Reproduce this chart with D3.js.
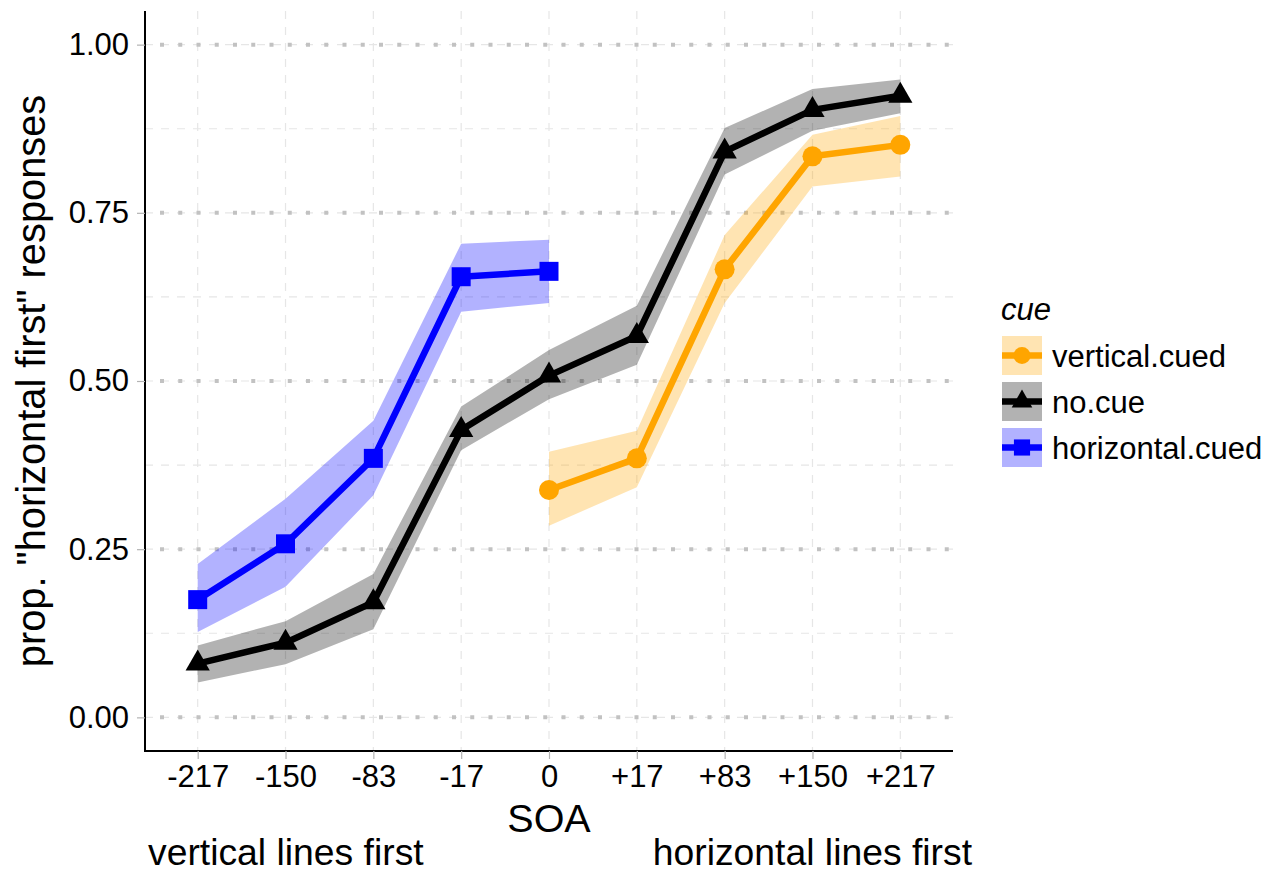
<!DOCTYPE html>
<html>
<head>
<meta charset="utf-8">
<script src="https://cdn.jsdelivr.net/npm/d3@7"></script>
<style>
  html, body { margin: 0; padding: 0; background: #fff; }
  svg { display: block; font-family: "Liberation Sans", Arial, Helvetica, sans-serif; }
</style>
</head>
<body>
<svg id="chart" width="1272" height="872"></svg>
<script>
// SOA categories (ms)
const categories = ["-217", "-150", "-83", "-17", "0", "+17", "+83", "+150", "+217"];

// vertical.cued
const vertSOA  = ["0", "+17", "+83", "+150", "+217"];
const vertProp = [0.338, 0.385, 0.666, 0.834, 0.851];
const vertLow  = [0.285, 0.342, 0.616, 0.789, 0.804];
const vertHigh = [0.395, 0.426, 0.717, 0.866, 0.894];

// no.cue
const noCueSOA  = ["-217", "-150", "-83", "-17", "0", "+17", "+83", "+150", "+217"];
const noCueProp = [0.080, 0.111, 0.171, 0.427, 0.508, 0.567, 0.841, 0.903, 0.924];
const noCueLow  = [0.052, 0.079, 0.131, 0.397, 0.473, 0.524, 0.807, 0.872, 0.898];
const noCueHigh = [0.107, 0.143, 0.213, 0.462, 0.546, 0.612, 0.876, 0.934, 0.948];

// horizontal.cued
const horizSOA  = ["-217", "-150", "-83", "-17", "0"];
const horizProp = [0.175, 0.258, 0.385, 0.655, 0.663];
const horizLow  = [0.127, 0.194, 0.330, 0.603, 0.616];
const horizHigh = [0.228, 0.325, 0.441, 0.704, 0.710];

const yTicks = [0, 0.25, 0.5, 0.75, 1];
const yMinor = [0.125, 0.375, 0.625, 0.875];
const seriesNames = ["vertical.cued", "no.cue", "horizontal.cued"];
const seriesColors = ["#FFA500", "#000000", "#0000FF"];
const seriesShapes = ["circle", "triangle", "square"];

function rows(soa, p, lo, hi) {
  return soa.map((s, i) => ({ soa: s, p: p[i], lo: lo[i], hi: hi[i] }));
}
const series = [
  rows(vertSOA, vertProp, vertLow, vertHigh),
  rows(noCueSOA, noCueProp, noCueLow, noCueHigh),
  rows(horizSOA, horizProp, horizLow, horizHigh)
];

const panel = { left: 145, right: 953, top: 11, bottom: 751 };
const svg = d3.select("#chart");

const x = d3.scalePoint().domain(categories).range([panel.left, panel.right]).padding(0.6);
const y = d3.scaleLinear().domain([-0.05, 1.05]).range([panel.bottom, panel.top]);

// grid
const grid = svg.append("g");
grid.selectAll(".vgrid").data(categories).join("line")
  .attr("x1", d => x(d)).attr("x2", d => x(d))
  .attr("y1", panel.top).attr("y2", panel.bottom)
  .attr("stroke", "#e6e6e6").attr("stroke-width", 1.2).attr("stroke-dasharray", "8,8");
grid.selectAll(".hminor").data(yMinor.concat(yTicks)).join("line")
  .attr("x1", panel.left).attr("x2", panel.right)
  .attr("y1", d => y(d)).attr("y2", d => y(d))
  .attr("stroke", "#e6e6e6").attr("stroke-width", 1.2).attr("stroke-dasharray", "8,8");
grid.selectAll(".hmajor").data(yTicks).join("line")
  .attr("x1", panel.left).attr("x2", panel.right - 3)
  .attr("y1", d => y(d)).attr("y2", d => y(d))
  .attr("stroke", "#c2c2c2").attr("stroke-width", 4)
  .attr("stroke-dasharray", "4,14.25").attr("stroke-dashoffset", -15);

// ribbons
const area = d3.area().x(d => x(d.soa)).y0(d => y(d.lo)).y1(d => y(d.hi));
svg.append("g").selectAll("path").data(series).join("path")
  .attr("d", area)
  .attr("fill", (d, i) => seriesColors[i]).attr("fill-opacity", 0.3);

// lines
const line = d3.line().x(d => x(d.soa)).y(d => y(d.p));
svg.append("g").selectAll("path").data(series).join("path")
  .attr("d", line).attr("fill", "none")
  .attr("stroke", (d, i) => seriesColors[i]).attr("stroke-width", 6.5)
  .attr("stroke-linejoin", "round");

// point symbols
function symbolPath(shape, scale) {
  if (shape === "circle") return d3.symbol(d3.symbolCircle, Math.PI * 10 * 10 * scale * scale)();
  if (shape === "square") return d3.symbol(d3.symbolSquare, 19 * 19 * scale * scale)();
  const r = 14 * scale;
  const h = r * Math.sqrt(3) / 2;
  return `M0,${-r}L${h},${r / 2}L${-h},${r / 2}Z`;
}
series.forEach((s, i) => {
  svg.append("g").selectAll("path").data(s).join("path")
    .attr("transform", d => `translate(${x(d.soa)},${y(d.p)})`)
    .attr("d", symbolPath(seriesShapes[i], 1))
    .attr("fill", seriesColors[i]);
});

// axes
const yAxis = svg.append("g").attr("transform", `translate(${panel.left},0)`)
  .call(d3.axisLeft(y).tickValues(yTicks).tickFormat(d3.format(".2f")).tickSize(8).tickSizeOuter(0).tickPadding(8));
const xAxis = svg.append("g").attr("transform", `translate(0,${panel.bottom})`)
  .call(d3.axisBottom(x).tickSize(8).tickSizeOuter(0).tickPadding(6));
[yAxis, xAxis].forEach(a => {
  a.select(".domain").attr("stroke", "#000").attr("stroke-width", 2);
  a.selectAll(".tick line").attr("stroke", "#b3b3b3").attr("stroke-width", 1.2);
  a.selectAll(".tick text").attr("fill", "#000").attr("font-size", 31)
    .attr("font-family", "Liberation Sans, Arial, sans-serif");
});
yAxis.select(".domain").attr("d", `M0,${panel.bottom + 1}V${panel.top}`);
xAxis.select(".domain").attr("d", `M${panel.left - 1},0H${panel.right}`);

// axis titles
svg.append("text").attr("x", (panel.left + panel.right) / 2).attr("y", 832)
  .attr("text-anchor", "middle").attr("font-size", 39.5).text("SOA");
svg.append("text").attr("x", 148).attr("y", 865)
  .attr("text-anchor", "start").attr("font-size", 37.3).text("vertical lines first");
svg.append("text").attr("x", 972).attr("y", 865)
  .attr("text-anchor", "end").attr("font-size", 37.3).text("horizontal lines first");
svg.append("text")
  .attr("transform", `translate(45,${(panel.top + panel.bottom) / 2}) rotate(-90)`)
  .attr("text-anchor", "middle").attr("font-size", 39.8)
  .text('prop. "horizontal first" responses');

// legend
const legend = svg.append("g").attr("transform", "translate(1002,0)");
legend.append("text").attr("x", -1).attr("y", 320).attr("font-size", 31)
  .attr("font-style", "italic").text("cue");
const keyY = [355.5, 401.5, 447.5];
seriesNames.forEach((name, i) => {
  const g = legend.append("g").attr("transform", `translate(0,${keyY[i]})`);
  g.append("rect").attr("x", 0).attr("y", -19.5).attr("width", 40).attr("height", 39)
    .attr("fill", seriesColors[i]).attr("fill-opacity", 0.3);
  g.append("line").attr("x1", 0).attr("x2", 40).attr("y1", 0).attr("y2", 0)
    .attr("stroke", seriesColors[i]).attr("stroke-width", 6.5);
  g.append("path").attr("transform", "translate(20,0)")
    .attr("d", symbolPath(seriesShapes[i], 0.85)).attr("fill", seriesColors[i]);
  g.append("text").attr("x", 50).attr("y", 11).attr("font-size", 31).text(name);
});
</script>
</body>
</html>
